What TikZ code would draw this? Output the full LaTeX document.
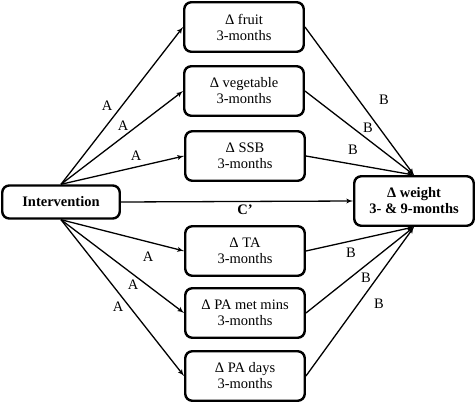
\documentclass[tikz,border=0pt]{standalone}
\usepackage{fontspec}
\setmainfont{Liberation Serif}
\usetikzlibrary{arrows}
\tikzstyle{terminator} = [rectangle, draw, line width=2.4pt, rounded corners=7pt, align=center, minimum width=119.5pt, minimum height=49.5pt, inner sep=2pt, font=\fontsize{14.5}{16}\selectfont]
\tikzstyle{connector} = [draw, line width=1.3pt, -latex']
\tikzstyle{pathlabel} = [inner sep=0pt, font=\fontsize{14.5}{16}\selectfont]

\begin{document}
\begin{tikzpicture}[x=1pt, y=1pt]
        \useasboundingbox (0, 0) rectangle (476, 405);

        \node[terminator, minimum width=117.5pt, minimum height=33pt] at (61, 203) (Intervention) {\textbf{Intervention}};
        \node[terminator] at (414, 204) (Weight) {\textbf{Δ weight}\\\textbf{3- \& 9-months}};

        \node[terminator] at (244, 378) (Fruit) {Δ fruit\\3-months};
        \node[terminator] at (244, 314) (Vegetable) {Δ vegetable\\3-months};
        \node[terminator] at (245, 249) (SSB) {Δ SSB\\3-months};
        \node[terminator] at (245, 154) (TA) {Δ TA\\3-months};
        \node[terminator] at (245, 92) (PAMetMins) {Δ PA met mins\\3-months};
        \node[terminator] at (245, 29) (PADays) {Δ PA days\\3-months};

        \draw[connector] (Intervention.north) -- (Fruit.west);
        \draw[connector] (Intervention.north) -- (Vegetable.west);
        \draw[connector] (Intervention.north) -- (SSB.west);
        \draw[connector] (Intervention.south) -- (TA.west);
        \draw[connector] (Intervention.south) -- (PAMetMins.west);
        \draw[connector] (Intervention.south) -- (PADays.west);

        \draw[connector] (Fruit.east) -- (Weight.north);
        \draw[connector] (Vegetable.east) -- (Weight.north);
        \draw[connector] (SSB.east) -- (Weight.north);
        \draw[connector] (TA.east) -- (Weight.south);
        \draw[connector] (PAMetMins.east) -- (Weight.south);
        \draw[connector] (PADays.east) -- (Weight.south);

        \draw[connector] (Intervention.east) -- (Weight.west);

        \node[pathlabel] at (107, 299) (aFruit) {A};
        \node[pathlabel] at (123, 279) (aVegetable) {A};
        \node[pathlabel] at (136, 249) (aSSB) {A};
        \node[pathlabel] at (148, 148) (aTA) {A};
        \node[pathlabel] at (133, 120) (aPAMetMins) {A};
        \node[pathlabel] at (118, 98) (aPADays) {A};

        \node[pathlabel] at (384, 305) (bFruit) {B};
        \node[pathlabel] at (368, 277) (bVegetable) {B};
        \node[pathlabel] at (353, 255) (bSSB) {B};
        \node[pathlabel] at (351, 152) (bTA) {B};
        \node[pathlabel] at (366, 127) (bPAMetMins) {B};
        \node[pathlabel] at (379, 101) (bPADays) {B};

        \node[pathlabel] at (245, 195) (cPrime) {\textbf{C’}};

    \end{tikzpicture}
\end{document}
